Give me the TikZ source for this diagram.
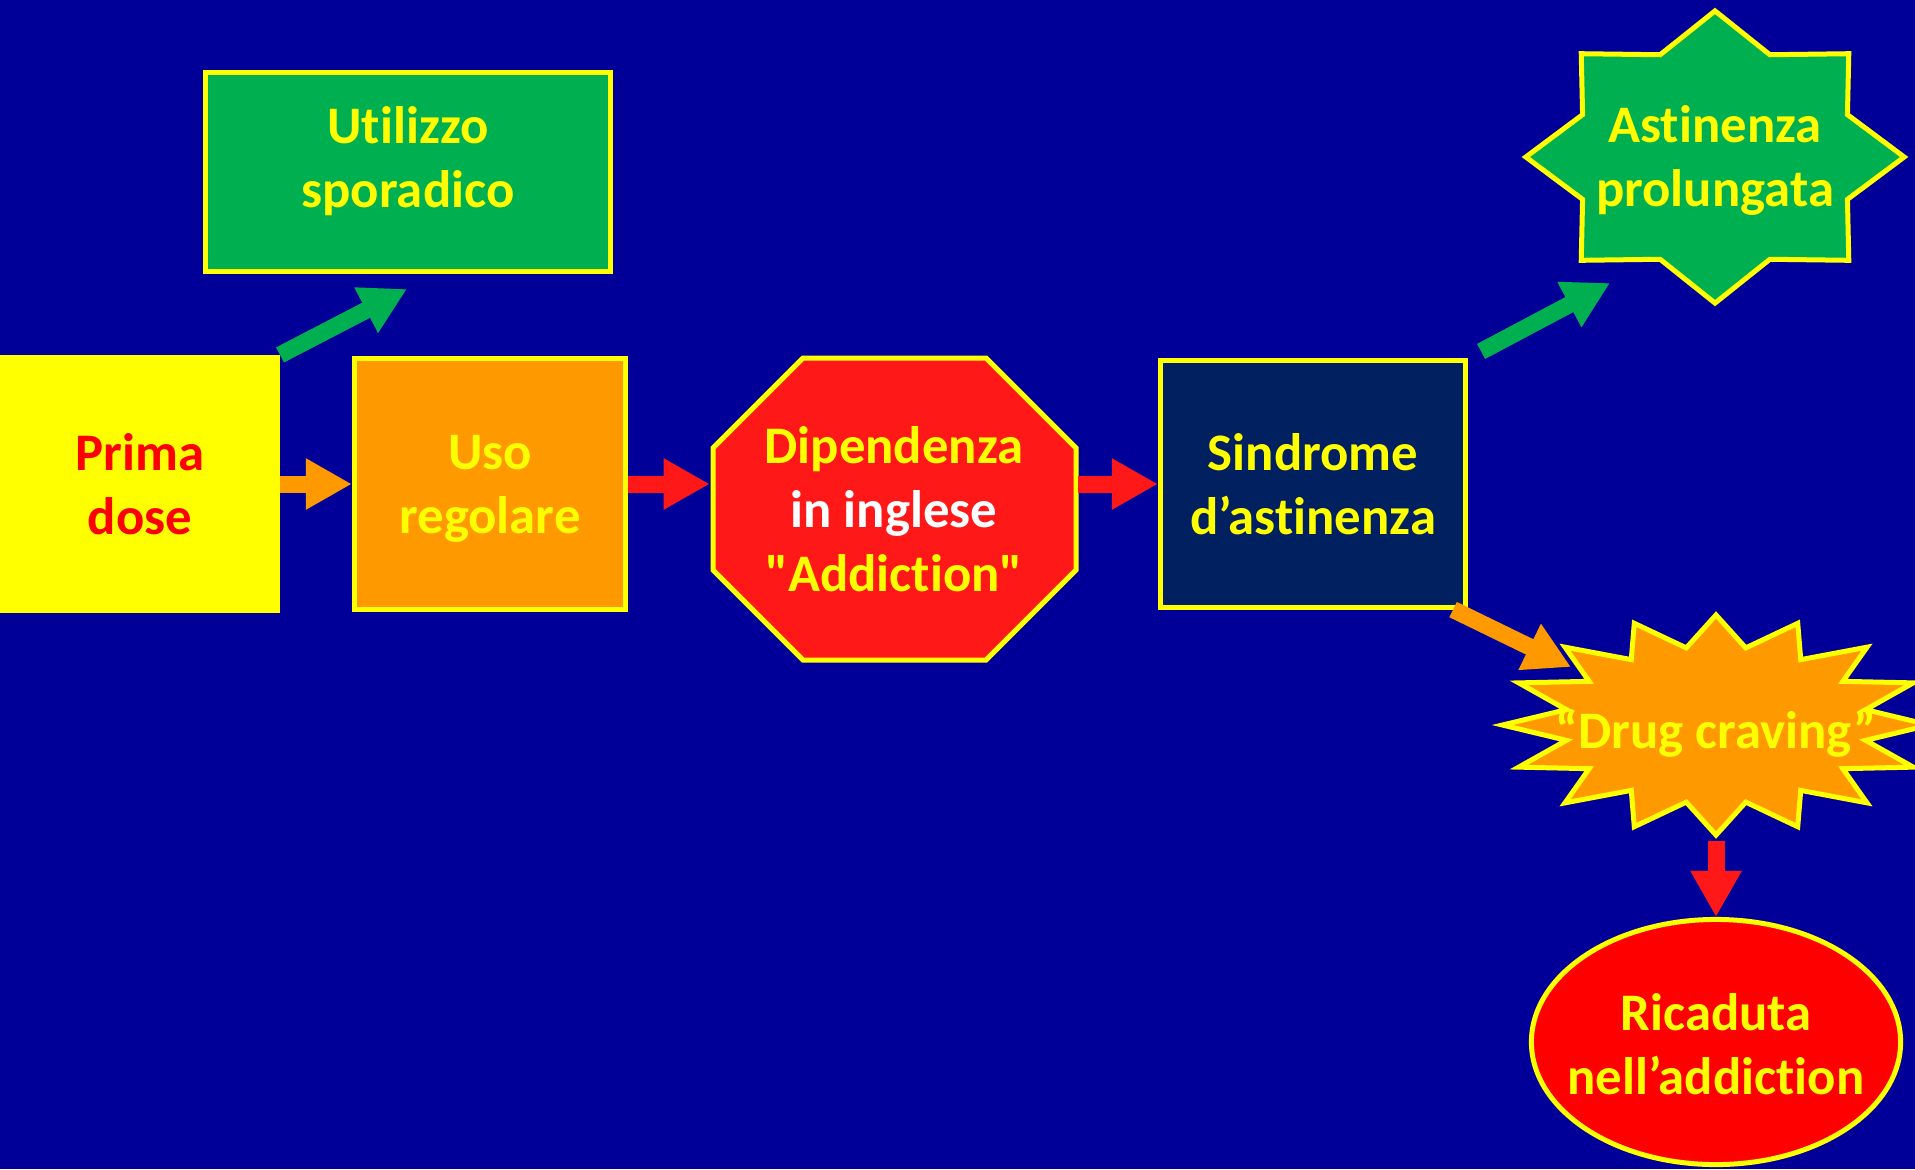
\documentclass[tikz,border=0pt]{standalone}
\usepackage{fontspec}
\setmainfont{Carlito}[Ligatures={TeXOff,NoCommon}]
\usetikzlibrary{shapes.geometric,arrows.meta}

\definecolor{bgblue}{RGB}{0,0,153}
\definecolor{grn}{RGB}{0,176,80}
\definecolor{ylw}{RGB}{255,255,0}
\definecolor{org}{RGB}{255,153,0}
\definecolor{navy}{RGB}{0,32,96}
\definecolor{stopred}{RGB}{255,24,24}
\definecolor{ellred}{RGB}{255,0,0}
\definecolor{primared}{RGB}{255,0,0}

\begin{document}
\begin{tikzpicture}[x=0.01cm, y=-0.01cm,
    every node/.style={font=\fontsize{15}{18.2}\selectfont\bfseries, align=center, text=ylw},
    box/.style={rectangle, draw=ylw, line width=0.05cm},
    blk/.style={line width=0.17cm, -{Triangle[length=0.46cm, width=0.48cm]}}]
            \path[fill=bgblue, use as bounding box] (0,0) rectangle (1915,1169);

            \node[box, fill=grn, minimum width=4.05cm, minimum height=1.98cm, text depth=0.3cm] (utilizzo) at (408,172) {Utilizzo\\sporadico};
            \node[box, fill=ylw, text=primared, minimum width=2.75cm, minimum height=2.53cm] (prima) at (140,484) {Prima\\dose};
            \node[box, fill=org, minimum width=2.71cm, minimum height=2.50cm, text depth=0pt] (uso) at (490,484) {Uso\\regolare};

            % octagon
            \draw[line width=0.05cm, draw=ylw, fill=stopred] (803,358) -- (986,358) -- (1076,448) -- (1076,570) -- (986,660) -- (803,660) -- (713,570) -- (713,448) -- cycle;
            \node[minimum width=3.67cm, minimum height=3.06cm] (dip) at (894,509) {Dipendenza\\\textcolor{white}{in inglese}\\"Addiction"};

            \node[box, fill=navy, minimum width=3.05cm, minimum height=2.46cm] (sindrome) at (1313,484) {Sindrome\\d’astinenza};

            \coordinate (astc) at (1715,157);
            \node[star, star points=8, star point ratio=1.32, draw=ylw, line width=0.05cm, fill=grn, inner sep=0pt, minimum size=2.92cm, xscale=1.295] (astin) at (astc) {};
            \node (astintxt) at (1715,160) {Astinenza\\prolungata};

            \coordinate (cravc) at (1716,725);
            \node[star, star points=16, star point ratio=1.4, draw=ylw, line width=0.05cm, fill=org, inner sep=0pt, minimum size=2.2cm, xscale=1.94] (craving) at (cravc) {};
            \node (cravingtxt) at (1716,733) {“Drug craving”};

            \node[ellipse, draw=ylw, line width=0.05cm, fill=ellred, minimum width=3.69cm, minimum height=2.45cm] (ricaduta) at (1716,1042) {};
            \node (ricadutatxt) at (1716,1044) {Ricaduta\\nell’addiction};

            \coordinate (utiltip) at (407,289);
            \coordinate (astintip) at (1610,283);
            \coordinate (cravtip) at (1571,667);

            \draw[blk, grn] (prima.north east) -- (utiltip);
            \draw[blk, org] (prima) -- (uso);
            \draw[blk, stopred] (uso) -- (uso -| dip.west);
            \draw[blk, stopred] (dip.east |- sindrome) -- (sindrome);
            \draw[blk, grn] ([xshift=0.13cm, yshift=0.07cm]sindrome.north east) -- (astintip);
            \draw[blk, org] ([xshift=-0.15cm]sindrome.south east) -- (cravtip);
            \draw[blk, stopred] (craving.south) -- (ricaduta.north);
          \end{tikzpicture}
\end{document}
